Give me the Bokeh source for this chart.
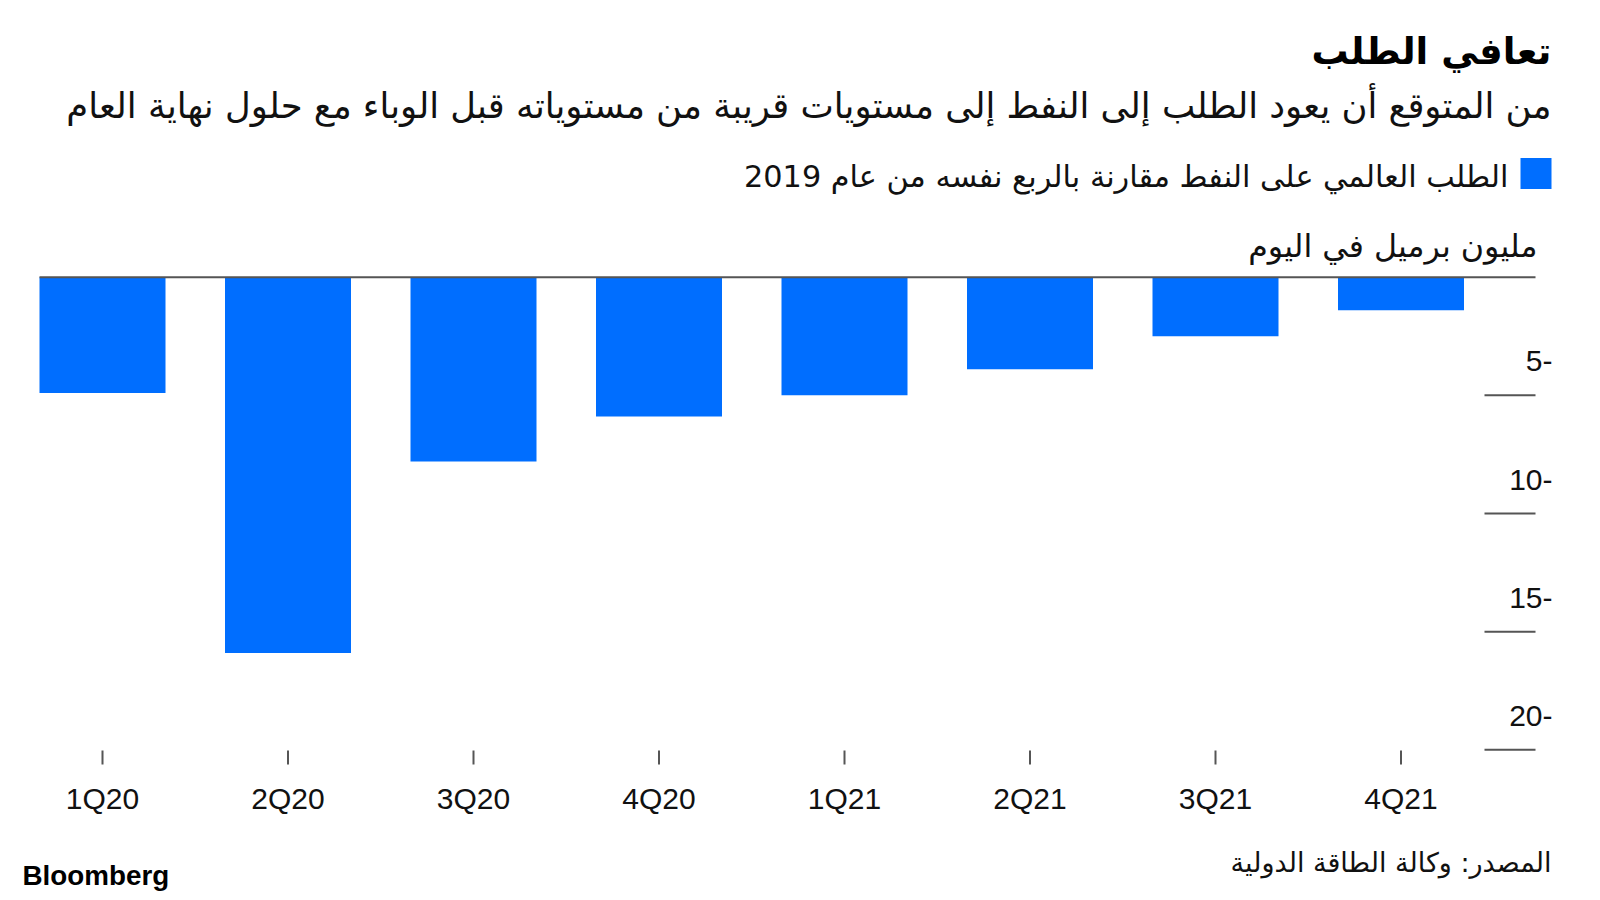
from bokeh.plotting import figure
from bokeh.models import Range1d, ColumnDataSource
from bokeh.core.properties import value
from bokeh.embed import file_html
from bokeh.resources import INLINE

# ---- data ----
quarters = ["1Q20", "2Q20", "3Q20", "4Q20", "1Q21", "2Q21", "3Q21", "4Q21"]
demand_change = [-4.9, -15.9, -7.8, -5.9, -5.0, -3.9, -2.5, -1.4]
y_ticks = [-5, -10, -15, -20]
y_tick_labels = ["5-", "10-", "15-", "20-"]

title_text = "تعافي الطلب"
subtitle_text = "من المتوقع أن يعود الطلب إلى النفط إلى مستويات قريبة من مستوياته قبل الوباء مع حلول نهاية العام"
legend_text = "الطلب العالمي على النفط مقارنة بالربع نفسه من عام 2019"
unit_text = "مليون برميل في اليوم"
source_text = "المصدر: وكالة الطاقة الدولية"
brand_text = "Bloomberg"

BLUE = "#006eff"
AR_FONT = "DejaVu Sans"
LAT_FONT = "Liberation Sans"
AXIS_GREY = "#555555"

# ---- layout (pixel geometry of the page) ----
W, H = 1600, 900
PX_PER_CAT = 185.5      # horizontal pixels per category
CAT0_PX = 102.0         # pixel centre of first category
PX_PER_UNIT = 23.63     # vertical pixels per million b/d
ZERO_PX = 276.7         # pixel row of the zero line


def dx(px):
    return (px - CAT0_PX) / PX_PER_CAT


def dy(py):
    return (ZERO_PX - py) / PX_PER_UNIT


p = figure(width=W, height=H, output_backend="svg", toolbar_location=None,
           x_range=Range1d(dx(0), dx(W)), y_range=Range1d(dy(H), dy(0)),
           x_axis_location=None, y_axis_location=None, min_border=0)
p.outline_line_color = None
p.xgrid.visible = False
p.ygrid.visible = False
p.background_fill_color = "white"
p.border_fill_color = "white"

idx = list(range(len(quarters)))
src = ColumnDataSource(dict(x=idx, top=[0] * len(idx), bottom=demand_change))
p.vbar(x="x", top="top", bottom="bottom", width=126 / PX_PER_CAT, source=src,
       fill_color=BLUE, line_color=None)

# zero line
p.segment(x0=[dx(39)], x1=[dx(1535)], y0=[0], y1=[0], line_color=AXIS_GREY, line_width=2)

# y "axis": short tick lines with labels above them
p.segment(x0=[dx(1484)] * len(y_ticks), x1=[dx(1535)] * len(y_ticks),
          y0=y_ticks, y1=y_ticks, line_color=AXIS_GREY, line_width=2)
p.text(x=[dx(1552)] * len(y_ticks), y=y_ticks, text=y_tick_labels, y_offset=-34,
       text_align="right", text_baseline="middle", text_font=value(LAT_FONT),
       text_font_size="30px", text_color="#111111")

# x axis ticks and labels
p.segment(x0=idx, x1=idx, y0=[dy(750)] * len(idx), y1=[dy(764)] * len(idx),
          line_color=AXIS_GREY, line_width=2)
p.text(x=idx, y=[dy(798)] * len(idx), text=quarters, text_align="center",
       text_baseline="middle", text_font=value(LAT_FONT), text_font_size="30px",
       text_color="#111111")


def lab(txt, px, py, size, font=AR_FONT, style="normal", align="right", color="#111111"):
    p.text(x=[dx(px)], y=[dy(py)], text=[txt], text_align=align, text_baseline="middle",
           text_font=value(font), text_font_size=size, text_font_style=style,
           text_color=color)


lab(title_text, 1551, 51, "37px", style="bold", color="#000000")
lab(subtitle_text, 1551, 105, "35.4px")
lab(legend_text, 1508, 176, "30.3px")
lab(unit_text, 1537, 245, "31.7px")
lab(source_text, 1551, 862, "27px")
lab(brand_text, 22, 875, "27.8px", font=LAT_FONT, style="bold", align="left", color="#000000")

# legend swatch
p.scatter(x=[dx(1535.5)], y=[dy(173)], marker="square", size=31,
          fill_color=BLUE, line_color=None)

open("out.html", "w").write(file_html(p, INLINE))
